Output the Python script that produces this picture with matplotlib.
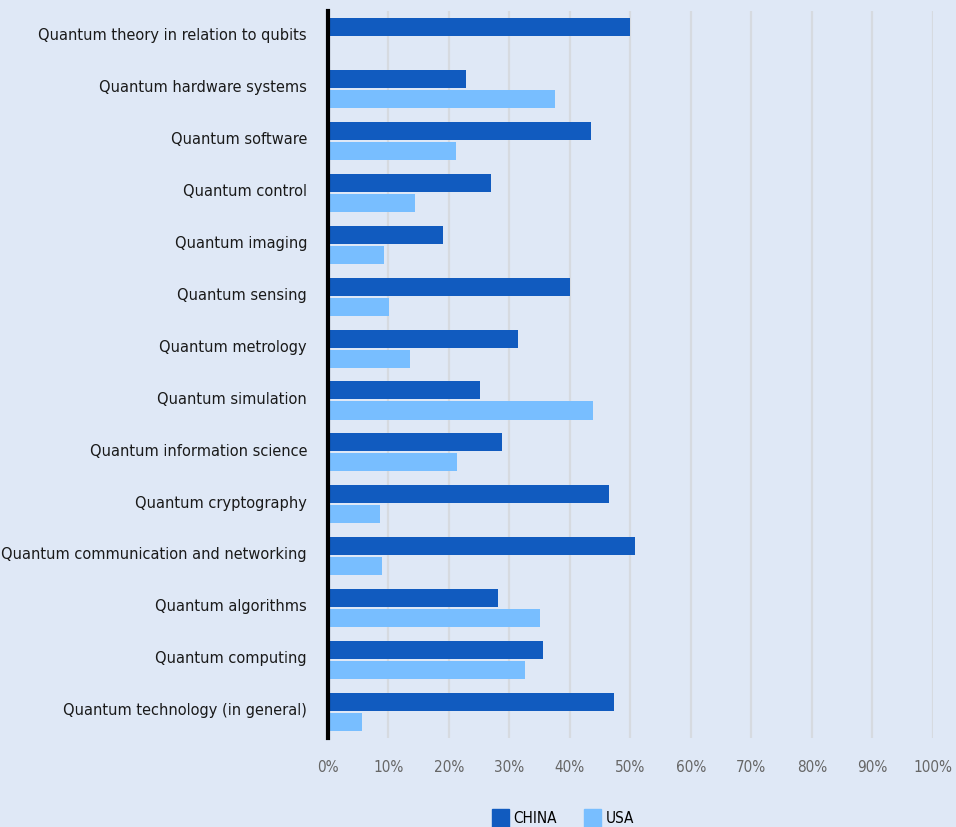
import numpy as np
import matplotlib.pyplot as plt
from matplotlib import font_manager
from matplotlib.patches import Patch
from matplotlib.transforms import ScaledTranslation

# Data
categories = [
    "Quantum theory in relation to qubits",
    "Quantum hardware systems",
    "Quantum software",
    "Quantum control",
    "Quantum imaging",
    "Quantum sensing",
    "Quantum metrology",
    "Quantum simulation",
    "Quantum information science",
    "Quantum cryptography",
    "Quantum communication and networking",
    "Quantum algorithms",
    "Quantum computing",
    "Quantum technology (in general)",
]
china = [50.0, 22.8, 43.5, 27.0, 19.0, 40.0, 31.4, 25.2, 28.8, 46.5, 50.8, 28.1, 35.6, 47.3]
usa = [0.0, 37.6, 21.2, 14.4, 9.3, 10.1, 13.6, 43.8, 21.3, 8.6, 9.0, 35.1, 32.6, 5.6]
xticks = list(range(0, 101, 10))
xtick_labels = [f"{t}%" for t in xticks]

bg = "#DFE8F6"
c_china = "#115BBF"
c_usa = "#78BEFF"

# the original uses a condensed sans, pick one if the system has it
narrow = [f for f in font_manager.fontManager.ttflist
          if ('Condensed' in f.name or 'Narrow' in f.name or f.stretch in ('condensed', 'semi-condensed'))
          and f.weight in (400, 'normal', 'regular') and f.style == 'normal']
if narrow:
    plt.rcParams['font.family'] = [narrow[0].name, 'DejaVu Sans']
    plt.rcParams['font.stretch'] = narrow[0].stretch
else:
    plt.rcParams['font.family'] = ['Roboto', 'DejaVu Sans']

fig = plt.figure(figsize=(9.56, 8.27), dpi=100, facecolor=bg)
ax = fig.add_axes([0.343, 0.1076, 0.9757 - 0.343, 0.9867 - 0.1076], facecolor=bg)

y = np.arange(len(categories))
h = 0.347
ax.barh(y - 0.193, china, height=h, color=c_china, zorder=3)
ax.barh(y + 0.193, usa, height=h, color=c_usa, zorder=3)

ax.set_xlim(0, 100)
ax.set_ylim(len(categories) - 0.5, -0.5)
ax.set_yticks(y)
ax.set_yticklabels(categories, fontsize=11.7, color="#1a1a1a")
ax.set_xticks(xticks)
ax.set_xticklabels(xtick_labels, fontsize=11, color="#666666")
ax.tick_params(axis='both', length=0)
ax.tick_params(axis='y', pad=15)
ax.tick_params(axis='x', pad=16)

# nudge category labels up a little, as in the original
shift = ScaledTranslation(0, 2 / 72, fig.dpi_scale_trans)
for lab in ax.get_yticklabels():
    lab.set_transform(lab.get_transform() + shift)

ax.grid(axis='x', color="#D6DAE0", linewidth=1.6, zorder=0)
for s in ['top', 'right', 'bottom']:
    ax.spines[s].set_visible(False)
ax.spines['left'].set_color("black")
ax.spines['left'].set_linewidth(3)
ax.spines['left'].set_zorder(4)

handles = [Patch(color=c_china, label="CHINA"), Patch(color=c_usa, label="USA")]
fig.legend(handles=handles, loc='center', bbox_to_anchor=(563 / 956, 1 - 818 / 827),
           ncol=2, frameon=False, fontsize=11, handlelength=1.1, handleheight=1.5,
           handletextpad=0.3, columnspacing=1.8, borderpad=0)

fig.savefig("out.png", dpi=100, facecolor=bg)
